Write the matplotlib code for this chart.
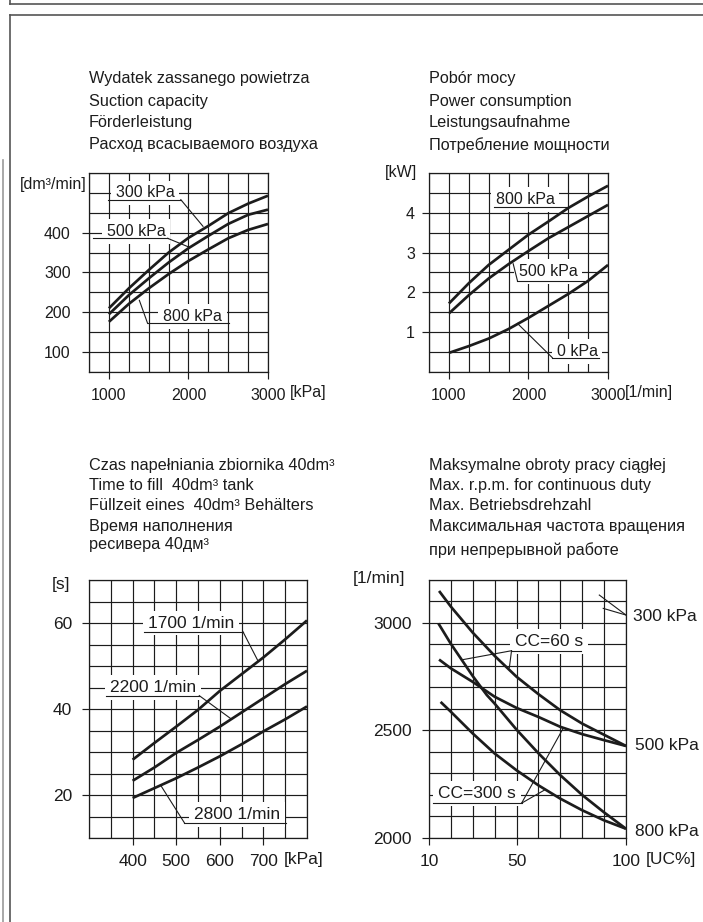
import matplotlib
matplotlib.use("Agg")
import matplotlib.pyplot as plt
from matplotlib.ticker import MultipleLocator
from matplotlib.lines import Line2D

plt.rcParams['font.family'] = ['Liberation Sans', 'DejaVu Sans']

W, H = 703, 922
INK = '#1c1c1c'

# ---------------------------
# Data
# ---------------------------
# suction capacity [dm3/min] vs pump speed
speed = [1000, 1250, 1500, 1750, 2000, 2250, 2500, 2750, 3000]
q_300kpa = [210, 260, 306, 350, 387, 417, 449, 473, 493]
q_500kpa = [195, 243, 285, 325, 361, 392, 422, 445, 458]
q_800kpa = [176, 221, 260, 296, 329, 358, 386, 407, 422]

# power consumption [kW] vs pump speed
p_800kpa = [1.72, 2.23, 2.69, 3.07, 3.45, 3.78, 4.12, 4.41, 4.68]
p_500kpa = [1.47, 1.93, 2.35, 2.71, 3.04, 3.36, 3.64, 3.92, 4.20]
p_0kpa = [0.48, 0.65, 0.84, 1.08, 1.36, 1.66, 1.96, 2.29, 2.69]

# time to fill 40 dm3 tank [s] vs pressure [kPa]
pressure = [400, 450, 500, 550, 600, 650, 700, 750, 800]
t_1700 = [28.2, 32.1, 35.9, 39.8, 44.2, 48.1, 52.0, 56.2, 60.6]
t_2200 = [23.3, 26.4, 29.8, 32.8, 35.9, 39.2, 42.5, 45.8, 48.9]
t_2800 = [19.3, 21.6, 23.9, 26.4, 29.0, 31.8, 34.8, 37.6, 40.6]

# max. continuous speed [1/min] vs duty [UC%]
uc = [14.6, 20, 30, 40, 50, 60, 70, 80, 90, 100]
n_cc60_500 = [3149, 3076, 2955, 2847, 2750, 2669, 2594, 2532, 2480, 2428]
n_cc300_500 = [2830, 2789, 2726, 2657, 2605, 2563, 2517, 2483, 2455, 2428]
uc_b = [14.3, 20, 30, 36.4, 40, 50, 60, 70, 80, 90, 100]
n_cc60_800 = [2998, 2903, 2753, 2665, 2625, 2504, 2394, 2292, 2200, 2119, 2043]
uc_d = [15.3, 20, 30, 40, 50, 60, 70, 80, 90, 100]
n_cc300_800 = [2633, 2587, 2486, 2393, 2315, 2245, 2183, 2129, 2082, 2043]

titles_q = ["Wydatek zassanego powietrza", "Suction capacity",
            "Förderleistung", "Расход всасываемого воздуха"]
titles_p = ["Pobór mocy", "Power consumption",
            "Leistungsaufnahme", "Потребление мощности"]
titles_t = ["Czas napełniania zbiornika 40dm³", "Time to fill  40dm³ tank",
            "Füllzeit eines  40dm³ Behälters", "Время наполнения", "ресивера 40дм³"]
titles_n = ["Maksymalne obroty pracy ciągłej", "Max. r.p.m. for continuous duty",
            "Max. Betriebsdrehzahl", "Максимальная частота вращения",
            "при непрерывной работе"]


# ---------------------------
# Helpers
# ---------------------------
def px_axes(fig, left, top, right, bottom):
    return fig.add_axes([left / W, 1 - bottom / H, (right - left) / W, (bottom - top) / H])


def ftext(fig, x, y, s, **kw):
    kw.setdefault('fontsize', 11.7)
    kw.setdefault('va', 'center')
    kw.setdefault('color', INK)
    fig.text(x / W, 1 - y / H, s, **kw)


def style_grid(ax, xlim, ylim, xstep, ystep, xticks, yticks, size, xpad, ypad):
    ax.set_xlim(xlim)
    ax.set_ylim(ylim)
    ax.set_xticks(xticks)
    ax.set_yticks(yticks)
    ax.xaxis.set_minor_locator(MultipleLocator(xstep))
    ax.yaxis.set_minor_locator(MultipleLocator(ystep))
    ax.grid(which='both', color=INK, lw=0.85)
    ax.set_axisbelow(True)
    ax.tick_params(which='major', direction='out', length=5.2, width=0.85, color=INK,
                   labelsize=size, labelcolor=INK)
    ax.tick_params(axis='x', which='major', pad=xpad)
    ax.tick_params(axis='y', which='major', pad=ypad)
    ax.tick_params(which='minor', length=0)
    for s in ax.spines.values():
        s.set_color(INK)
        s.set_linewidth(0.9)


def curve(ax, x, y):
    ax.plot(x, y, color=INK, lw=1.95, solid_capstyle='butt', zorder=4)


def label(ax, x, y, s, size, ul, leaders=()):
    # text on a white patch, underline and thin leader(s) to the curve
    ax.text(x, y, s, ha='center', va='center', fontsize=size, color=INK, zorder=3,
            bbox=dict(fc='white', ec='none', pad=3.5))
    (x0, x1, yu) = ul
    ax.plot([x0, x1], [yu, yu], color=INK, lw=0.8, zorder=4, clip_on=False)
    for (xa, ya, xb, yb) in leaders:
        ax.plot([xa, xb], [ya, yb], color=INK, lw=0.8, zorder=4, clip_on=False)


fig = plt.figure(figsize=(W / 100, H / 100), dpi=100)

# sheet frame
for (xs, ys, c) in [([10, 703], [4.5, 4.5], '#555555'), ([10, 10], [0, 4.5], '#555555'),
                    ([10, 703], [15.5, 15.5], '#555555'), ([10, 10], [15.5, 922], '#555555'),
                    ([3, 3], [160, 922], '#9a9a9a')]:
    fig.add_artist(Line2D([x / W for x in xs], [1 - y / H for y in ys],
                          color=c, lw=1.2, transform=fig.transFigure))

# ---------------------------
# Suction capacity
# ---------------------------
ax1 = px_axes(fig, 89, 173, 268, 372)
style_grid(ax1, (750, 3000), (50, 550), 250, 50, [1000, 2000, 3000],
           [100, 200, 300, 400], 11.5, 6, 8)
curve(ax1, speed, q_300kpa)
curve(ax1, speed, q_500kpa)
curve(ax1, speed, q_800kpa)
label(ax1, 1456, 500, "300 kPa", 11.5, (987, 1904, 483), [(1904, 483, 2183, 416)])
label(ax1, 1342, 403, "500 kPa", 11.5, (800, 1737, 386), [(1737, 386, 2017, 363)])
label(ax1, 2050, 189, "800 kPa", 11.5, (1487, 2508, 172), [(1487, 172, 1383, 230)])
for i, s in enumerate(titles_q):
    ftext(fig, 89, 79 + 22 * i, s)
ftext(fig, 87, 184, "[dm³/min]", ha='right', fontsize=11.5)
ftext(fig, 290, 392, "[kPa]", fontsize=11.5)

# ---------------------------
# Power consumption
# ---------------------------
ax2 = px_axes(fig, 429, 173, 608, 372)
style_grid(ax2, (750, 3000), (0, 5), 250, 0.5, [1000, 2000, 3000],
           [1, 2, 3, 4], 11.5, 6, 5)
curve(ax2, speed, p_800kpa)
curve(ax2, speed, p_500kpa)
curve(ax2, speed, p_0kpa)
label(ax2, 1956, 4.33, "800 kPa", 11.5, (1571, 2487, 4.14))
label(ax2, 2248, 2.52, "500 kPa", 11.5, (1862, 2700, 2.29), [(1862, 2.29, 1808, 2.72)])
label(ax2, 2612, 0.52, "0 kPa", 11.5, (2300, 2883, 0.36), [(2300, 0.36, 1862, 1.22)])
for i, s in enumerate(titles_p):
    ftext(fig, 429, 79 + 22 * i, s)
ftext(fig, 417, 172, "[kW]", ha='right', fontsize=11.5)
ftext(fig, 625, 392, "[1/min]", fontsize=11.5)

# ---------------------------
# Time to fill
# ---------------------------
ax3 = px_axes(fig, 89, 580, 307, 838)
style_grid(ax3, (300, 800), (10, 70), 50, 5, [400, 500, 600, 700],
           [20, 40, 60], 12.5, 6, 7)
curve(ax3, pressure, t_1700)
curve(ax3, pressure, t_2200)
curve(ax3, pressure, t_2800)
label(ax3, 535, 60, "1700 1/min", 12.5, (427, 653, 58.0), [(653, 58.0, 687, 51.3)])
label(ax3, 447, 45, "2200 1/min", 12.5, (338, 553, 43.1), [(553, 43.1, 626, 37.7)])
label(ax3, 640, 15.4, "2800 1/min", 12.5, (519, 752, 13.5), [(519, 13.5, 466, 22.0)])
for i, s in enumerate(titles_t):
    ftext(fig, 89, [465, 485, 505, 526, 544][i], s)
ftext(fig, 70, 584, "[s]", ha='right', fontsize=12.5)
ftext(fig, 284, 859, "[kPa]", fontsize=12.5)

# ---------------------------
# Max. continuous speed
# ---------------------------
ax4 = px_axes(fig, 429, 580, 626, 838)
style_grid(ax4, (10, 100), (2000, 3200), 10, 100, [10, 50, 100],
           [2000, 2500, 3000], 12.5, 6, 7)
curve(ax4, uc, n_cc60_500)
curve(ax4, uc, n_cc300_500)
curve(ax4, uc_b, n_cc60_800)
curve(ax4, uc_d, n_cc300_800)
label(ax4, 65, 2913, "CC=60 s", 12.5, (47.7, 79.6, 2871),
      [(47.7, 2871, 25.7, 2830), (47.7, 2871, 46.7, 2792)])
label(ax4, 32, 2206, "CC=300 s", 12.5, (11.8, 52.3, 2162),
      [(52.3, 2162, 71.4, 2512), (52.3, 2162, 63.1, 2225)])
ax4.plot([87.8, 100], [3130, 3037], color=INK, lw=0.8, zorder=4, clip_on=False)
ax4.plot([89.6, 100], [3068, 3037], color=INK, lw=0.8, zorder=4, clip_on=False)
for i, s in enumerate(titles_n):
    ftext(fig, 429, [465, 485, 505, 526, 550][i], s)
ftext(fig, 405, 579, "[1/min]", ha='right', fontsize=12.5)
ftext(fig, 646, 859, "[UC%]", fontsize=12.5)
ftext(fig, 633, 616, "300 kPa", fontsize=12.5)
ftext(fig, 635, 746, "500 kPa", fontsize=12.5)
ftext(fig, 635, 832, "800 kPa", fontsize=12.5)

fig.savefig("out.png", dpi=100)
